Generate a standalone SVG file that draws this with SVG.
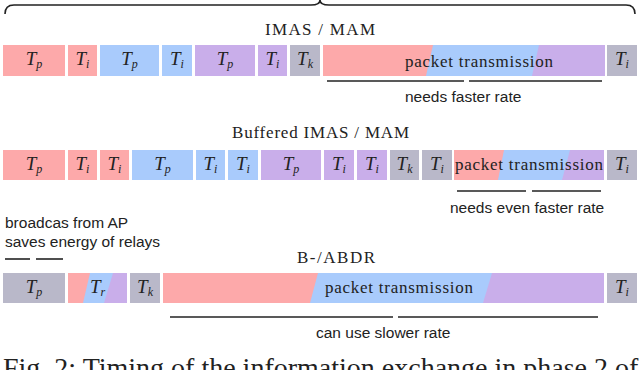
<svg xmlns="http://www.w3.org/2000/svg" width="640" height="370" viewBox="0 0 640 370">
<style>
.r{fill:#fda9aa}.b{fill:#a9cbfc}.p{fill:#c9aeea}.g{fill:#b9b8c9}
.t{font-family:"Liberation Serif",serif;font-style:italic;font-size:19px;fill:#222;text-anchor:middle}
.s{font-size:12px}
.h{font-family:"Liberation Serif",serif;font-size:17px;fill:#222}
.pk{font-family:"Liberation Serif",serif;font-size:17px;fill:#222}
.n{font-family:"Liberation Sans",sans-serif;font-size:15.5px;fill:#222}
.ln{stroke:#222;stroke-width:1.6;fill:none}
</style>
<rect width="640" height="370" fill="#fff"/>
<path class="ln" d="M5,14 Q5,5 14,5 L311,5 Q320,5 320,0 Q320,5 329,5 L626,5 Q635,5 635,14" stroke-width="2"/>
<text class="h" x="265" y="35" textLength="110">IMAS / MAM</text>
<g id="r1-tp1"><rect class="r" x="3" y="45" width="62" height="31"/><text class="t" x="34" y="65">T<tspan class="s" dy="3">p</tspan></text></g>
<g id="r1-ti1"><rect class="r" x="68" y="45" width="29" height="31"/><text class="t" x="82.5" y="65">T<tspan class="s" dy="3">i</tspan></text></g>
<g id="r1-tp2"><rect class="b" x="100" y="45" width="59" height="31"/><text class="t" x="129.5" y="65">T<tspan class="s" dy="3">p</tspan></text></g>
<g id="r1-ti2"><rect class="b" x="162" y="45" width="30" height="31"/><text class="t" x="177" y="65">T<tspan class="s" dy="3">i</tspan></text></g>
<g id="r1-tp3"><rect class="p" x="195" y="45" width="60" height="31"/><text class="t" x="225" y="65">T<tspan class="s" dy="3">p</tspan></text></g>
<g id="r1-ti3"><rect class="p" x="258" y="45" width="29" height="31"/><text class="t" x="272.5" y="65">T<tspan class="s" dy="3">i</tspan></text></g>
<g id="r1-tk"><rect class="g" x="290" y="45" width="30" height="31"/><text class="t" x="305" y="65">T<tspan class="s" dy="3">k</tspan></text></g>
<g id="r1-packet"><rect class="r" x="323" y="45" width="282" height="31"/><polygon class="b" points="433,45 605,45 605,76 426,76"/><polygon class="p" points="539,45 605,45 605,76 532,76"/><text class="pk" x="405" y="67" textLength="148">packet transmission</text></g>
<g id="r1-ti4"><rect class="g" x="607" y="45" width="30" height="31"/><text class="t" x="622" y="65">T<tspan class="s" dy="3">i</tspan></text></g>
<text class="n" x="405" y="102">needs faster rate</text>

<text class="h" x="232" y="138" textLength="177">Buffered IMAS / MAM</text>
<g id="r2-tp1"><rect class="r" x="3" y="150" width="62" height="30"/><text class="t" x="34" y="170">T<tspan class="s" dy="3">p</tspan></text></g>
<g id="r2-ti1"><rect class="r" x="68" y="150" width="29" height="30"/><text class="t" x="82.5" y="170">T<tspan class="s" dy="3">i</tspan></text></g>
<g id="r2-ti2"><rect class="r" x="100" y="150" width="29" height="30"/><text class="t" x="114.5" y="170">T<tspan class="s" dy="3">i</tspan></text></g>
<g id="r2-tp2"><rect class="b" x="132" y="150" width="61" height="30"/><text class="t" x="162.5" y="170">T<tspan class="s" dy="3">p</tspan></text></g>
<g id="r2-ti3"><rect class="b" x="196" y="150" width="29" height="30"/><text class="t" x="210.5" y="170">T<tspan class="s" dy="3">i</tspan></text></g>
<g id="r2-ti4"><rect class="b" x="228" y="150" width="30" height="30"/><text class="t" x="243" y="170">T<tspan class="s" dy="3">i</tspan></text></g>
<g id="r2-tp3"><rect class="p" x="261" y="150" width="60" height="30"/><text class="t" x="291" y="170">T<tspan class="s" dy="3">p</tspan></text></g>
<g id="r2-ti5"><rect class="p" x="324" y="150" width="30" height="30"/><text class="t" x="339" y="170">T<tspan class="s" dy="3">i</tspan></text></g>
<g id="r2-ti6"><rect class="p" x="357" y="150" width="30" height="30"/><text class="t" x="372" y="170">T<tspan class="s" dy="3">i</tspan></text></g>
<g id="r2-tk"><rect class="g" x="390" y="150" width="29" height="30"/><text class="t" x="404.5" y="170">T<tspan class="s" dy="3">k</tspan></text></g>
<g id="r2-ti7"><rect class="g" x="422" y="150" width="30" height="30"/><text class="t" x="437" y="170">T<tspan class="s" dy="3">i</tspan></text></g>
<g id="r2-packet"><rect class="r" x="454" y="150" width="150" height="30"/><polygon class="b" points="504,150 604,150 604,180 498,180"/><polygon class="p" points="570,150 604,150 604,180 562,180"/><text class="pk" x="455" y="170" textLength="148">packet transmission</text></g>
<g id="r2-ti8"><rect class="g" x="607" y="150" width="30" height="30"/><text class="t" x="622" y="170">T<tspan class="s" dy="3">i</tspan></text></g>
<text class="n" x="450" y="213">needs even faster rate</text>

<text class="n" x="5" y="228">broadcas from AP</text>
<text class="n" x="5" y="247">saves energy of relays</text>
<text class="h" x="297" y="263" textLength="78">B-/ABDR</text>
<g id="r3-tp"><rect class="g" x="3" y="273" width="62" height="30"/><text class="t" x="34" y="293">T<tspan class="s" dy="3">p</tspan></text></g>
<g id="r3-tr"><rect class="r" x="68" y="273" width="59" height="30"/><polygon class="b" points="90,273 127,273 127,303 83,303"/><polygon class="p" points="113,273 127,273 127,303 104,303"/><text class="t" x="97.5" y="293">T<tspan class="s" dy="3">r</tspan></text></g>
<g id="r3-tk"><rect class="g" x="130" y="273" width="30" height="30"/><text class="t" x="145" y="293">T<tspan class="s" dy="3">k</tspan></text></g>
<g id="r3-packet"><rect class="r" x="163" y="273" width="441" height="30"/><polygon class="b" points="318,273 604,273 604,303 310,303"/><polygon class="p" points="492,273 604,273 604,303 483,303"/><text class="pk" x="325" y="293" textLength="148">packet transmission</text></g>
<g id="r3-ti"><rect class="g" x="607" y="273" width="30" height="30"/><text class="t" x="622" y="293">T<tspan class="s" dy="3">i</tspan></text></g>
<text class="n" x="316" y="338">can use slower rate</text>

<g id="connectors">
<line class="ln" x1="327" y1="81" x2="464" y2="81"/>
<line class="ln" x1="469" y1="81" x2="602" y2="81"/>
<line class="ln" x1="457" y1="191" x2="526" y2="191"/>
<line class="ln" x1="532" y1="191" x2="601" y2="191"/>
<line class="ln" x1="5" y1="259" x2="30" y2="259"/>
<line class="ln" x1="36" y1="259" x2="63" y2="259"/>
<line class="ln" x1="170" y1="317" x2="393" y2="317"/>
<line class="ln" x1="398" y1="317" x2="598" y2="317"/>
</g>
<text x="3" y="377" font-family="Liberation Serif, serif" font-size="28" fill="#222">Fig. 2: Timing of the information exchange in phase 2 of</text>
</svg>
